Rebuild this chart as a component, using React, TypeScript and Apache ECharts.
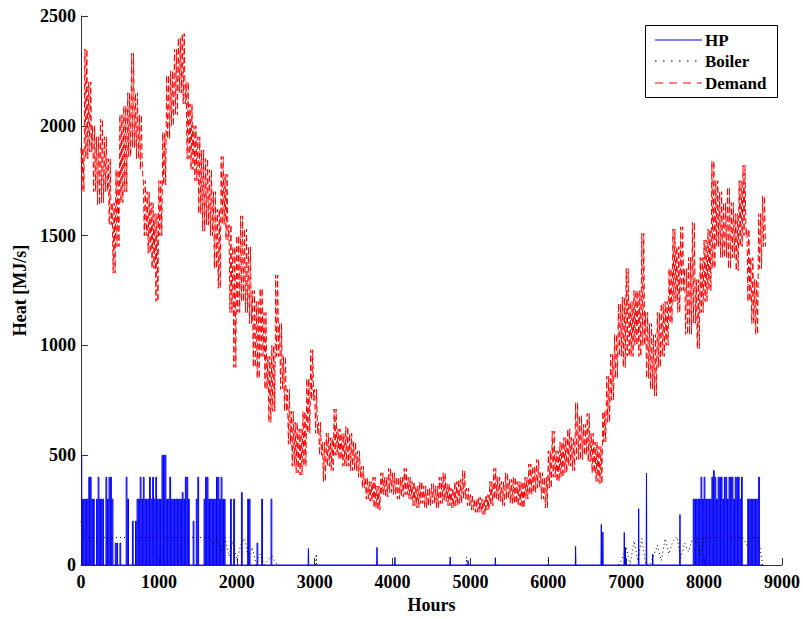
import React, { useEffect, useRef } from "react";
import * as echarts from "echarts";

// ---------- data ----------
const xTicks = [0, 1000, 2000, 3000, 4000, 5000, 6000, 7000, 8000, 9000];
const yTicks = [0, 500, 1000, 1500, 2000, 2500];

// Demand: upper / lower envelope of the hourly noise, every 50 h from hour 0
const DEMAND_STEP = 50;
const demandHigh = [
  1900, 2350, 2200, 2000, 1950, 2030, 1950, 1850, 1650, 1800,
  2050, 2090, 2150, 2330, 2150, 2050, 1750, 1700, 1650, 1600,
  1750, 1970, 2230, 2250, 2350, 2400, 2420, 2200, 2100, 2000,
  1950, 1890, 1850, 1800, 1700, 1620, 1860, 1780, 1550, 1450,
  1500, 1590, 1530, 1450, 1250, 1200, 1260, 1150, 950, 1000,
  1320, 1100, 950, 800, 700, 650, 620, 700, 850, 980,
  800, 650, 560, 600, 580, 710, 620, 600, 630, 600,
  560, 520, 450, 400, 380, 400, 360, 420, 400, 440,
  420, 400, 400, 440, 400, 380, 360, 380, 360, 350,
  370, 360, 400, 420, 370, 350, 380, 390, 430, 350,
  320, 300, 310, 300, 320, 380, 440, 400, 380, 420,
  390, 400, 380, 380, 400, 460, 450, 480, 420, 400,
  520, 610, 520, 560, 580, 620, 580, 740, 680, 640,
  690, 600, 560, 540, 700, 860, 960, 1050, 1190, 1220,
  1350, 1200, 1250, 1250, 1510, 1150, 1100, 1050, 1150, 1190,
  1200, 1350, 1530, 1450, 1540, 1350, 1400, 1560, 1300, 1400,
  1480, 1530, 1840, 1750, 1700, 1650, 1720, 1650, 1600, 1750,
  1820, 1530, 1400, 1300, 1600, 1680,
];
const demandLow = [
  1700, 1850, 1880, 1700, 1640, 1650, 1700, 1550, 1330, 1450,
  1650, 1700, 1860, 1900, 1850, 1800, 1500, 1420, 1350, 1200,
  1500, 1730, 1940, 2000, 2050, 2150, 2100, 1850, 1800, 1750,
  1600, 1520, 1550, 1500, 1350, 1260, 1550, 1480, 1150, 900,
  1150, 1200, 1150, 1100, 900, 850, 950, 800, 650, 700,
  950, 800, 700, 550, 450, 420, 410, 450, 600, 750,
  600, 500, 380, 450, 430, 500, 480, 450, 450, 430,
  430, 400, 350, 300, 290, 260, 250, 320, 310, 330,
  320, 300, 310, 320, 300, 270, 260, 280, 260, 270,
  280, 260, 280, 290, 270, 260, 270, 280, 300, 270,
  250, 240, 240, 230, 250, 270, 300, 290, 270, 300,
  280, 280, 270, 260, 300, 320, 330, 350, 300, 260,
  350, 400, 380, 400, 420, 450, 430, 480, 480, 500,
  470, 420, 380, 370, 560, 650, 750, 850, 950, 900,
  950, 950, 1000, 950, 1000, 850, 800, 770, 900, 950,
  1000, 1100, 1200, 1150, 1250, 1050, 1050, 1100, 985, 1150,
  1200, 1250, 1350, 1450, 1400, 1400, 1350, 1400, 1340, 1450,
  1500, 1200, 1100, 1050, 1350, 1450,
];

// Heat pump: level reached in each 20 h block (output toggles between 0 and this level)
const HP_STEP = 20;
const hpEarlyStart = 0;
const hpEarly = [
  500, 300, 300, 300, 300, 400, 400, 300, 300, 0,
  300, 400, 300, 300, 300, 0, 400, 300, 400, 400,
  300, 0, 100, 100, 0, 100, 0, 0, 0, 400,
  300, 0, 0, 200, 0, 200, 300, 300, 400, 300,
  400, 300, 300, 300, 400, 300, 400, 300, 400, 300,
  300, 300, 500, 500, 500, 300, 300, 400, 300, 300,
  300, 300, 300, 300, 300, 330, 300, 400, 400, 300,
  0, 0, 200, 0, 300, 400, 0, 0, 0, 300,
  400, 400, 300, 300, 300, 300, 300, 400, 400, 300,
  400, 300, 300, 0, 0, 0, 300, 0, 300, 0,
  0, 0, 0, 330, 0, 0, 0, 300, 300, 0,
  0, 0, 0, 100, 0, 0, 300, 0, 0, 0,
  0, 0, 300, 0, 0,
];
const hpLateStart = 7840;
const hpLate = [
  0, 300, 300, 300, 300, 300, 400, 300, 400, 300,
  300, 300, 300, 400, 430, 400, 300, 400, 400, 400,
  300, 400, 400, 300, 400, 400, 400, 300, 400, 400,
  400, 300, 400, 0, 0, 0, 300, 300, 300, 300,
  300, 300, 300, 400, 0, 0,
];
const hpSpikes = [
  [2920, 75], [3800, 80], [4030, 35], [4740, 36], [4970, 20], [5320, 33],
  [6350, 85], [6680, 185], [6700, 150], [6975, 148], [6990, 80],
  [7160, 256], [7260, 418], [7340, 50], [7690, 230],
];

// Boiler: every 50 h
const BOILER_STEP = 50;
const boilerEarlyStart = 0;
const boilerEarly = [
  200, 125, 125, 125, 125, 125, 125, 125, 125, 125,
  125, 125, 125, 125, 125, 125, 125, 125, 125, 125,
  125, 125, 125, 125, 125, 125, 125, 125, 125, 125,
  125, 125, 125, 125, 100, 125, 60, 125, 40, 110,
  20, 90, 120, 30, 80, 0, 50, 0, 20, 40,
  10, 0,
];
const boilerLateStart = 6900;
const boilerLate = [
  0, 30, 80, 0, 110, 20, 120, 0, 0, 40,
  90, 20, 120, 50, 110, 130, 30, 100, 60, 120,
  125, 40, 125, 125, 125, 125, 125, 125, 125, 125,
  125, 125, 125, 90, 125, 125, 125, 0,
];
const boilerSpikes = [[3020, 50], [4950, 36], [6000, 36]];

const HOURS_END = 8760;

// ---------- build series data ----------
// hourly demand swings between the two envelopes: drawn as strokes between them
function buildDemand(): number[][] {
  const out: number[][] = [];
  const q = DEMAND_STEP / 4;
  demandHigh.forEach((v, i) => {
    const h = i * DEMAND_STEP;
    out.push([h, v], [h + q, demandLow[i]], [h + 2 * q, v], [h + 3 * q, demandLow[i]]);
  });
  return out;
}

function pushBlocks(out: number[][], start: number, levels: number[]) {
  const half = HP_STEP / 2;
  levels.forEach((v, i) => {
    const h = start + i * HP_STEP;
    out.push([h, v], [h + half, 0]);
  });
}

function buildHP(): number[][] {
  const out: number[][] = [];
  pushBlocks(out, hpEarlyStart, hpEarly);
  hpSpikes.forEach(([h, v]) => {
    out.push([h - 4, 0], [h, v], [h + 4, 0]);
  });
  pushBlocks(out, hpLateStart, hpLate);
  out.push([HOURS_END, 0]);
  return out;
}

function buildBoiler(): (number | null)[][] {
  const out: (number | null)[][] = [];
  boilerEarly.forEach((v, i) => out.push([boilerEarlyStart + i * BOILER_STEP, v]));
  out.push([2600, null]);
  boilerSpikes.forEach(([h, v]) => {
    out.push([h - 5, 0], [h, v], [h + 5, 0], [h + 6, null]);
  });
  boilerLate.forEach((v, i) => out.push([boilerLateStart + i * BOILER_STEP, v]));
  return out;
}

const FONT = "'Liberation Serif', 'Times New Roman', serif";

export default function App() {
  const ref = useRef<HTMLDivElement>(null);

  useEffect(() => {
    if (!ref.current) return;
    const chart = echarts.init(ref.current, undefined, { renderer: "svg" });
    const axisText = { fontFamily: FONT, fontSize: 18, fontWeight: "bold" as const, color: "#000" };
    const plain = (v: number) => String(v);
    chart.setOption({
      animation: false,
      backgroundColor: "#fff",
      grid: { left: 81, right: 19, top: 16, bottom: 48.5, containLabel: false },
      xAxis: {
        type: "value",
        min: xTicks[0],
        max: xTicks[xTicks.length - 1],
        interval: xTicks[1] - xTicks[0],
        name: "Hours",
        nameLocation: "middle",
        nameGap: 31,
        nameTextStyle: axisText,
        axisLine: { show: true, onZero: false, lineStyle: { color: "#333", width: 1 } },
        axisTick: { show: true, inside: true, length: 7, lineStyle: { color: "#333" } },
        axisLabel: { ...axisText, margin: 8, formatter: plain },
        splitLine: { show: false },
      },
      yAxis: {
        type: "value",
        min: yTicks[0],
        max: yTicks[yTicks.length - 1],
        interval: yTicks[1] - yTicks[0],
        name: "Heat [MJ/s]",
        nameLocation: "middle",
        nameGap: 42,
        nameTextStyle: axisText,
        axisLine: { show: true, onZero: false, lineStyle: { color: "#333", width: 1 } },
        axisTick: { show: true, inside: true, length: 7, lineStyle: { color: "#333" } },
        axisLabel: { ...axisText, margin: 5, formatter: plain },
        splitLine: { show: false },
      },
      series: [
        {
          name: "HP",
          type: "line",
          step: "end",
          data: buildHP(),
          symbol: "none",
          silent: true,
          lineStyle: { color: "#0000ff", width: 1 },
          z: 2,
        },
        {
          name: "Boiler",
          type: "line",
          data: buildBoiler(),
          symbol: "none",
          silent: true,
          connectNulls: false,
          lineStyle: { color: "#000", width: 1, type: [1, 3] },
          z: 3,
        },
        {
          name: "Demand",
          type: "line",
          data: buildDemand(),
          symbol: "none",
          silent: true,
          lineStyle: { color: "#ff0000", width: 1, type: [6, 3] },
          z: 4,
        },
      ],
      graphic: [
        {
          type: "group",
          z: 100,
          children: [
            { type: "rect", shape: { x: 645.5, y: 25.5, width: 132, height: 72 }, style: { fill: "#fff", stroke: "#000", lineWidth: 1 } },
            { type: "line", shape: { x1: 655, y1: 40, x2: 702, y2: 40 }, style: { stroke: "#0000ff", lineWidth: 1 } },
            { type: "line", shape: { x1: 655, y1: 61, x2: 702, y2: 61 }, style: { stroke: "#000", lineWidth: 1.2, lineDash: [1.5, 6.5] } },
            { type: "line", shape: { x1: 655, y1: 83, x2: 702, y2: 83 }, style: { stroke: "#ff0000", lineWidth: 1, lineDash: [8, 6] } },
            { type: "text", x: 705, y: 40, style: { text: "HP", font: `bold 17px ${FONT}`, fill: "#000", verticalAlign: "middle" } },
            { type: "text", x: 705, y: 61, style: { text: "Boiler", font: `bold 17px ${FONT}`, fill: "#000", verticalAlign: "middle" } },
            { type: "text", x: 705, y: 83, style: { text: "Demand", font: `bold 17px ${FONT}`, fill: "#000", verticalAlign: "middle" } },
          ],
        },
      ],
    });
    return () => chart.dispose();
  }, []);

  return (
    <div
      ref={ref}
      style={{ position: "fixed", left: 0, top: 0, width: 803, height: 619, background: "#fff" }}
    />
  );
}
